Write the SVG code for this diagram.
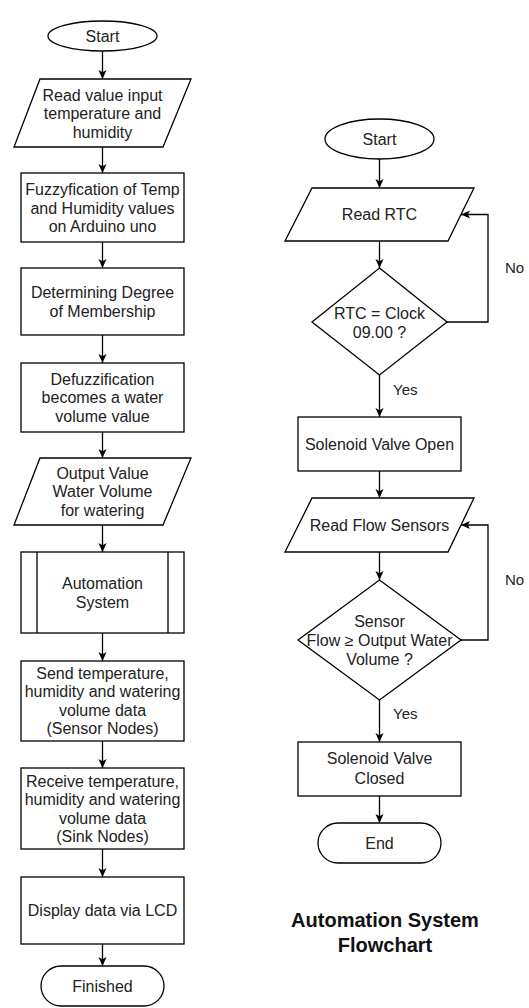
<svg xmlns="http://www.w3.org/2000/svg" width="529" height="1008" viewBox="0 0 529 1008">
<defs>
<marker id="arr" viewBox="0 0 10 10" refX="10" refY="5" markerWidth="9" markerHeight="9" markerUnits="userSpaceOnUse" orient="auto">
<path d="M0,0.5 L10,5 L0,9.5 L2.5,5 Z" fill="#000"/>
</marker>
<style>
.s{fill:#fff;stroke:#000;stroke-width:1.3}
.t{font-family:"Liberation Sans",Arial,sans-serif;font-size:16px;fill:#222;text-anchor:middle}
.l{font-family:"Liberation Sans",Arial,sans-serif;font-size:15px;fill:#222}
.c{fill:none;stroke:#000;stroke-width:1.3;marker-end:url(#arr)}
.h{font-family:"Liberation Sans",Arial,sans-serif;font-size:20px;font-weight:bold;fill:#111;text-anchor:middle}
</style>
</defs>
<rect width="529" height="1008" fill="#fff"/>

<g id="connectors">
<path class="c" d="M102.5,51 V79"/>
<path class="c" d="M102.5,147 V173"/>
<path class="c" d="M102.5,242 V268"/>
<path class="c" d="M102.5,335 V363"/>
<path class="c" d="M102.5,432 V458"/>
<path class="c" d="M102.5,525 V552"/>
<path class="c" d="M102.5,633 V661"/>
<path class="c" d="M102.5,741 V768"/>
<path class="c" d="M102.5,849 V877"/>
<path class="c" d="M102.5,944 V966"/>
<path class="c" d="M379.5,159 V188"/>
<path class="c" d="M379.5,241 V268"/>
<path class="c" d="M379.5,375 V417"/>
<path class="c" d="M379.5,471 V498"/>
<path class="c" d="M379.5,552 V580"/>
<path class="c" d="M379.5,700 V742"/>
<path class="c" d="M379.5,796 V823"/>
<path class="c" d="M447,322 H488 V214.5 H461"/>
<path class="c" d="M461,640 H488 V525 H461"/>
<text class="l" x="393" y="395">Yes</text>
<text class="l" x="393" y="719">Yes</text>
<text class="l" x="505" y="273">No</text>
<text class="l" x="505" y="585">No</text>
</g>

<g id="start1">
<ellipse class="s" cx="102.5" cy="36" rx="54.5" ry="15"/>
<text class="t" x="102.5" y="41.5">Start</text>
</g>
<g id="readInput">
<polygon class="s" points="40,79 191,79 163,147 14,147"/>
<text class="t" x="102.5" y="100.5">Read value input</text>
<text class="t" x="102.5" y="119">temperature and</text>
<text class="t" x="102.5" y="137.5">humidity</text>
</g>
<g id="fuzzy">
<rect class="s" x="21" y="173" width="163" height="69"/>
<text class="t" x="102.5" y="195">Fuzzyfication of Temp</text>
<text class="t" x="102.5" y="213.5">and Humidity values</text>
<text class="t" x="102.5" y="232">on Arduino uno</text>
</g>
<g id="degree">
<rect class="s" x="21" y="268" width="163" height="67"/>
<text class="t" x="102.5" y="298">Determining Degree</text>
<text class="t" x="102.5" y="316.5">of Membership</text>
</g>
<g id="defuzz">
<rect class="s" x="21" y="363" width="163" height="69"/>
<text class="t" x="102.5" y="384.5">Defuzzification</text>
<text class="t" x="102.5" y="403">becomes a water</text>
<text class="t" x="102.5" y="421.5">volume value</text>
</g>
<g id="output">
<polygon class="s" points="40,458 191,458 163,525 14,525"/>
<text class="t" x="102.5" y="478.5">Output Value</text>
<text class="t" x="102.5" y="497">Water Volume</text>
<text class="t" x="102.5" y="515.5">for watering</text>
</g>
<g id="automation">
<rect class="s" x="21" y="552" width="163" height="81"/>
<line class="s" x1="37" y1="552" x2="37" y2="633"/>
<line class="s" x1="168" y1="552" x2="168" y2="633"/>
<text class="t" x="102.5" y="589">Automation</text>
<text class="t" x="102.5" y="607.5">System</text>
</g>
<g id="send">
<rect class="s" x="21" y="661" width="163" height="80"/>
<text class="t" x="102.5" y="678.5">Send temperature,</text>
<text class="t" x="102.5" y="697">humidity and watering</text>
<text class="t" x="102.5" y="715.5">volume data</text>
<text class="t" x="102.5" y="734">(Sensor Nodes)</text>
</g>
<g id="receive">
<rect class="s" x="21" y="768" width="163" height="81"/>
<text class="t" x="102.5" y="786.5">Receive temperature,</text>
<text class="t" x="102.5" y="805">humidity and watering</text>
<text class="t" x="102.5" y="823.5">volume data</text>
<text class="t" x="102.5" y="842">(Sink Nodes)</text>
</g>
<g id="display">
<rect class="s" x="21" y="877" width="163" height="67"/>
<text class="t" x="102.5" y="916">Display data via LCD</text>
</g>
<g id="finished">
<rect class="s" x="41" y="966" width="123" height="40" rx="20" ry="20"/>
<text class="t" x="102.5" y="991.5">Finished</text>
</g>

<g id="start2">
<ellipse class="s" cx="379.5" cy="139" rx="54.5" ry="20"/>
<text class="t" x="379.5" y="144.5">Start</text>
</g>
<g id="readRTC">
<polygon class="s" points="312,188 474,188 448,241 285,241"/>
<text class="t" x="379.5" y="220">Read RTC</text>
</g>
<g id="decision1">
<polygon class="s" points="379.5,268 447,322 379.5,375 312,322"/>
<text class="t" x="379.5" y="318.5">RTC = Clock</text>
<text class="t" x="379.5" y="338">09.00 ?</text>
</g>
<g id="valveOpen">
<rect class="s" x="298" y="417" width="163" height="54"/>
<text class="t" x="379.5" y="449.5">Solenoid Valve Open</text>
</g>
<g id="readFlow">
<polygon class="s" points="312,498 474,498 448,552 285,552"/>
<text class="t" x="379.5" y="530.5">Read Flow Sensors</text>
</g>
<g id="decision2">
<polygon class="s" points="379.5,580 461,640 379.5,700 298,640"/>
<text class="t" x="379.5" y="627">Sensor</text>
<text class="t" x="379.5" y="646">Flow ≥ Output Water</text>
<text class="t" x="379.5" y="665">Volume ?</text>
</g>
<g id="valveClosed">
<rect class="s" x="298" y="742" width="163" height="54"/>
<text class="t" x="379.5" y="764">Solenoid Valve</text>
<text class="t" x="379.5" y="783.5">Closed</text>
</g>
<g id="end">
<rect class="s" x="318" y="823" width="123" height="40" rx="20" ry="20"/>
<text class="t" x="379.5" y="848.5">End</text>
</g>

<g id="title">
<text class="h" x="385" y="927">Automation System</text>
<text class="h" x="385" y="952">Flowchart</text>
</g>
</svg>
